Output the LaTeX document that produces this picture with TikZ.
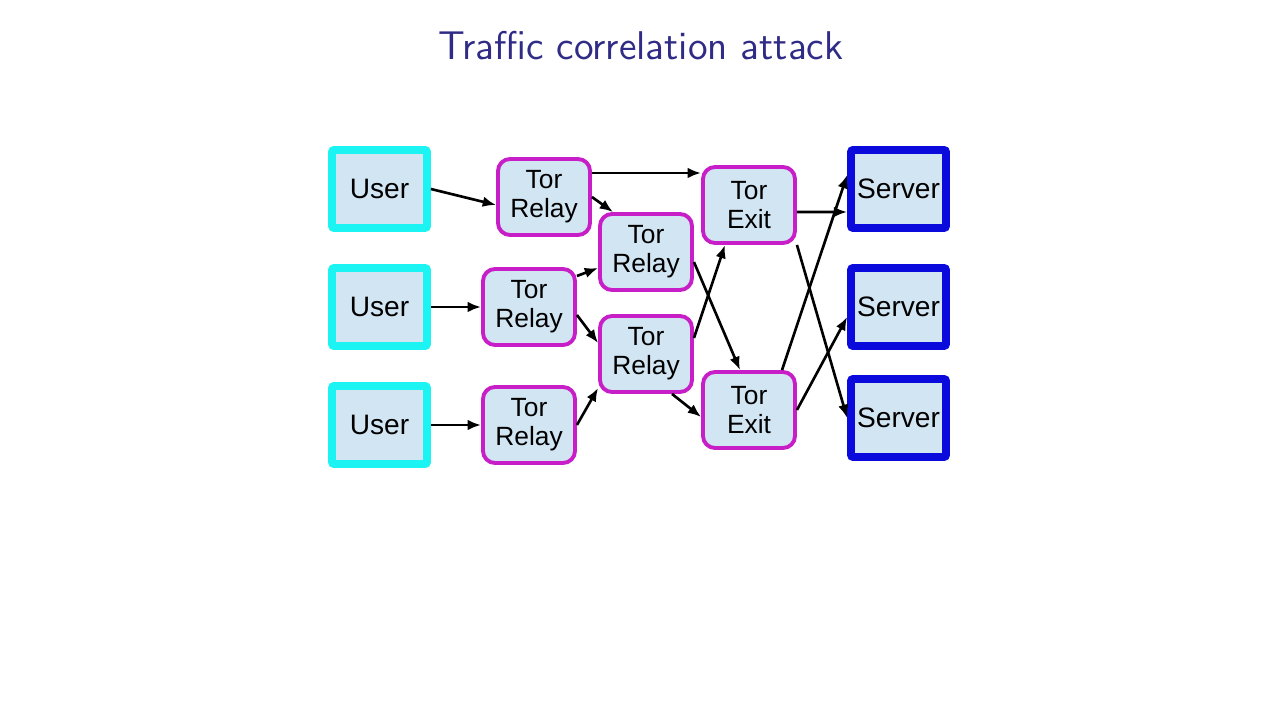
\documentclass[tikz,border=0pt]{standalone}
\usepackage{fontspec}
\newfontfamily\arial{Liberation Sans}
\usepackage{tikz}
\usetikzlibrary{arrows.meta}
\definecolor{tctitle}{HTML}{302C86}
\definecolor{tcuser}{HTML}{1CF4F4}
\definecolor{tcserver}{HTML}{0A0ADC}
\definecolor{tctor}{HTML}{C81EC8}
\definecolor{tcfill}{HTML}{D2E5F2}

\begin{document}
\begin{tikzpicture}[
  hostbox/.style={fill=tcfill,line width=2.2pt,rounded corners=0.02cm,minimum width=0.95cm,minimum height=0.78cm,inner sep=1pt,font=\arial\fontsize{8}{9}\selectfont},
  torbox/.style={draw=tctor,fill=tcfill,line width=1.1pt,rounded corners=0.12cm,minimum width=0.92cm,minimum height=0.76cm,align=center,inner sep=1pt,font=\arial\fontsize{7.5}{8.2}\selectfont},
  flow/.style={-{Latex[length=3.8pt,width=3pt]},line width=0.75pt}]
  \useasboundingbox (0,0) rectangle (12.8,-7.2);
  \node[font=\sffamily\fontsize{11.4}{13}\selectfont,text=tctitle,anchor=base] (title) at (6.41,-0.60) {Traffic correlation attack};
  % end hosts
  \foreach \i/\y in {1/1.89,2/3.07,3/4.25}{\node[hostbox,draw=tcuser] (u\i) at (3.795,-\y) {User};}
  \foreach \i/\y in {1/1.89,2/3.07,3/4.18}{\node[hostbox,draw=tcserver] (s\i) at (8.985,-\y) {Server};}
  % tor nodes
  \node[torbox] (r1) at (5.44,-1.97) {Tor\\Relay};
  \node[torbox] (r2) at (5.29,-3.07) {Tor\\Relay};
  \node[torbox] (r3) at (5.29,-4.25) {Tor\\Relay};
  \node[torbox] (m1) at (6.46,-2.52) {Tor\\Relay};
  \node[torbox] (m2) at (6.46,-3.54) {Tor\\Relay};
  \node[torbox] (e1) at (7.49,-2.05) {Tor\\Exit};
  \node[torbox] (e2) at (7.49,-4.10) {Tor\\Exit};
  % circuits
  \draw[flow] (u1.east) -- ([yshift=-.08cm]r1.west);
  \foreach \i in {2,3}{\draw[flow] (u\i.east) -- (r\i.west);}
  \draw[flow] ([yshift=.24cm]r1.east) -- ([yshift=.32cm]e1.west);
  \draw[flow] (r1.east) -- ([xshift=-.33cm]m1.north);
  \draw[flow] ([yshift=.31cm]r2.east) -- ([yshift=-.16cm]m1.west);
  \draw[flow] ([yshift=-.08cm]r2.east) -- ([yshift=.11cm]m2.west);
  \draw[flow] (r3.east) -- ([yshift=-.34cm]m2.west);
  \draw[flow] ([yshift=-.10cm]m1.east) -- ([xshift=-.09cm]e2.north);
  \draw[flow] ([yshift=.16cm]m2.east) -- ([xshift=-.24cm]e1.south);
  \draw[flow] ([xshift=.26cm]m2.south) -- ([yshift=-.07cm]e2.west);
  \draw[flow] ([yshift=-.07cm]e1.east) -- ([yshift=-.23cm]s1.west);
  \draw[flow] ([xshift=.33cm]e2.north) -- ([yshift=.14cm]s1.west);
  \draw[flow] (e1.south east) -- (s3.west);
  \draw[flow] (e2.east) -- ([yshift=-.10cm]s2.west);
\end{tikzpicture}
\end{document}
